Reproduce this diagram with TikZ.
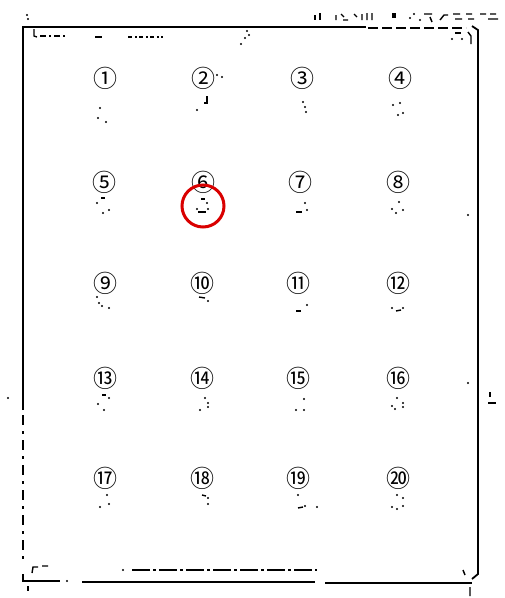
\documentclass[tikz,border=0pt]{standalone}
\usepackage{fontspec}
\newfontfamily\cjk{Noto Sans CJK JP}
\begin{document}
\begin{tikzpicture}[x=1pt,y=-1pt,
  frame/.style={line width=1.8pt,black},
  thin/.style={line width=1.4pt,black},
  num/.style={font=\cjk\fontsize{24}{24}\selectfont,inner sep=0pt},
  redring/.style={draw=red!85!black,line width=3pt,circle,minimum size=42pt,inner sep=0pt},
]
\useasboundingbox (0,0) rectangle (505,598);
\newcommand\dt[2]{\fill (#1,#2) circle (1.1pt);}
% frame
\draw[frame] (23,410) -- (23,27) -- (366,27);
\draw[frame,dash pattern=on 10pt off 4pt] (368,28) -- (466,28);
\draw[frame] (472,26) -- (478,30) -- (478,574) -- (472,579);
\draw[frame,dash pattern=on 10pt off 6pt on 3pt off 6pt] (23,415) -- (23,565);
\draw[frame] (23,574) -- (23,581) -- (60,581);
\draw[frame] (82,582) -- (315,582);
\draw[frame] (325,583) -- (472,583);
\draw[thin,dash pattern=on 18pt off 3pt on 3pt off 3pt] (132,570) -- (317,570);
\dt{123}{570}\dt{67}{581}
\draw[thin] (32,573) -- (33,567) -- (38,567) (42,566) -- (48,566);
\draw[thin] (28,586) -- (28,591);
\draw[thin] (470,587) -- (470,596) (463,570) -- (465,575);
% top-left marks
\draw[thin] (34,29) -- (34,36) -- (37,37);
\draw[thin,dash pattern=on 6pt off 3pt on 2pt off 3pt] (40,36) -- (66,36);
\draw[thin] (95,37) -- (102,37);
\draw[thin,dash pattern=on 4pt off 3pt on 2pt off 2pt] (128,37) -- (163,37);
\dt{247}{31}\dt{245}{38}\dt{241}{44}\dt{249}{35}
\dt{27}{15}\dt{28}{19}
% top-right fragments
\draw[thin] (315,15) -- (315,20) (320,13) -- (320,20);
\draw[thin] (336,15) -- (336,20) (341,14) -- (344,17) (343,20) -- (348,20);
\draw[thin] (354,14) -- (357,17) (362,14) -- (362,20) (367,13) -- (367,20) (372,13) -- (372,20);
\fill (392,13) rectangle (396,18);
\dt{410}{18}\dt{414}{14}\dt{420}{20}
\draw[thin] (424,14) -- (432,14) (430,17) -- (432,22);
\draw[thin] (440,20) -- (444,15) -- (448,15) (453,14) -- (460,14) (455,19) -- (462,19) (466,14) -- (472,14) (468,19) -- (474,19) (480,14) -- (486,14) (490,14) -- (496,14) (488,19) -- (498,19);
\draw[thin] (455,33) -- (461,33); \dt{452}{39}\dt{462}{39}
\draw[thin] (468,32) -- (471,36) -- (471,44);
% right side marks
\dt{468}{215}\dt{468}{383}
\draw[thin] (490,392) -- (490,397) (488,403) -- (496,403);
\dt{8}{398}
% numbers
\foreach \n/\t/\x/\y in {1/①/105/78,2/②/203/78,3/③/302/78,4/④/400/78,
  5/⑤/104/182,6/⑥/203/182,7/⑦/300/182,8/⑧/398/182,
  9/⑨/105/283,10/⑩/202/283,11/⑪/298/283,12/⑫/398/283,
  13/⑬/105/378,14/⑭/202/378,15/⑮/298/378,16/⑯/398/378,
  17/⑰/105/478,18/⑱/202/478,19/⑲/298/478,20/⑳/398/478}
  \node[num] (n\n) at (\x,\y) {\t};
% dot fragments
\dt{100}{108}\dt{98}{118}\dt{106}{122}
\dt{217}{75}\dt{222}{77}\draw[thin] (207,96) -- (207,103) -- (204,103);\dt{197}{110}
\dt{303}{102}\dt{305}{107}\dt{306}{112}
\dt{393}{105}\dt{400}{103}\dt{398}{115}\dt{403}{113}
\draw[thin] (101,198) -- (105,198);\dt{97}{203}\dt{103}{213}\dt{109}{210}
\draw[thin] (201,199) -- (205,199);\dt{207}{203}\dt{197}{209}\draw[thin] (198,212) -- (206,212);\dt{208}{209}
\dt{305}{203}\draw[thin] (296,212) -- (302,212);\dt{307}{210}
\dt{399}{202}\dt{392}{209}\dt{396}{213}\dt{403}{210}
\dt{97}{297}\dt{99}{303}\dt{102}{306}\dt{109}{308}
\draw[thin] (199,297) -- (205,298);\dt{208}{301}
\draw[thin] (296,311) -- (301,311);\dt{307}{305}
\dt{392}{308}\draw[thin] (396,311) -- (401,310);\dt{403}{308}
\draw[thin] (102,395) -- (106,395);\dt{109}{398}\dt{98}{404}\dt{104}{410}
\dt{205}{398}\dt{208}{403}\dt{208}{407}\dt{200}{410}
\dt{304}{399}\dt{296}{410}\dt{304}{410}
\dt{397}{398}\dt{403}{403}\dt{403}{407}\dt{392}{406}\dt{395}{409}
\dt{107}{495}\dt{100}{507}\dt{109}{504}
\draw[thin] (202,495) -- (206,496);\dt{208}{498}\dt{208}{504}
\dt{298}{495}\draw[thin] (298,508) -- (303,507);\dt{305}{506}\dt{317}{507}
\dt{397}{495}\dt{403}{498}\dt{392}{507}\dt{397}{509}\dt{403}{506}
% red ring
\node[redring] (ring) at (203,206) {};
\end{tikzpicture}
\end{document}
